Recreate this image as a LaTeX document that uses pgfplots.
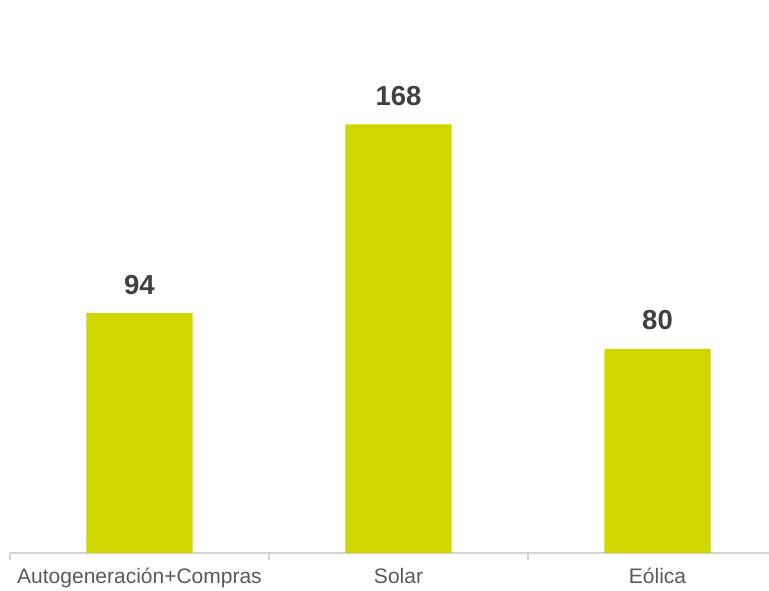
\documentclass[border=0pt]{standalone}
\usepackage{pgfplots}
\pgfplotsset{compat=1.18}
\usepackage{fontspec}
\setmainfont{Liberation Sans}
\definecolor{barc}{HTML}{CFD600}
\definecolor{axc}{HTML}{D4D4D4}
\definecolor{lbl}{HTML}{404040}
\definecolor{tlbl}{HTML}{595959}
\begin{document}
\begin{tikzpicture}
\begin{axis}[
  at={(0pt,0pt)}, anchor=south west,
  scale only axis, width=759pt, height=553pt,
  xmin=-0.5, xmax=2.4305, ymin=0, ymax=216.7,
  axis x line*=bottom, hide y axis,
  axis line style={axc, line width=1.5pt, -},
  xtick={0,1,2},
  xticklabels={Autogeneración+Compras, Solar, Eólica},
  minor xtick={-0.5,0.5,1.5},
  major tick length=0pt, minor tick length=7pt,
  tick align=outside,
  minor tick style={axc, line width=1.5pt},
  xticklabel style={font=\fontsize{21}{24}\selectfont, text=tlbl, anchor=base, yshift=-30pt},
  ybar, bar width=0.41,
  nodes near coords={\textbf{\pgfmathprintnumber[assume math mode=true]{\pgfplotspointmeta}}},
  nodes near coords style={font=\fontsize{27.5}{30}\selectfont\bfseries, text=lbl, anchor=base, yshift=19pt},
]
\addplot[fill=barc, draw=none] coordinates {(0,94) (1,168) (2,80)};
\end{axis}
\pgfresetboundingbox
\path (-10pt,-37pt) rectangle (759pt,553pt);
\end{tikzpicture}
\end{document}
